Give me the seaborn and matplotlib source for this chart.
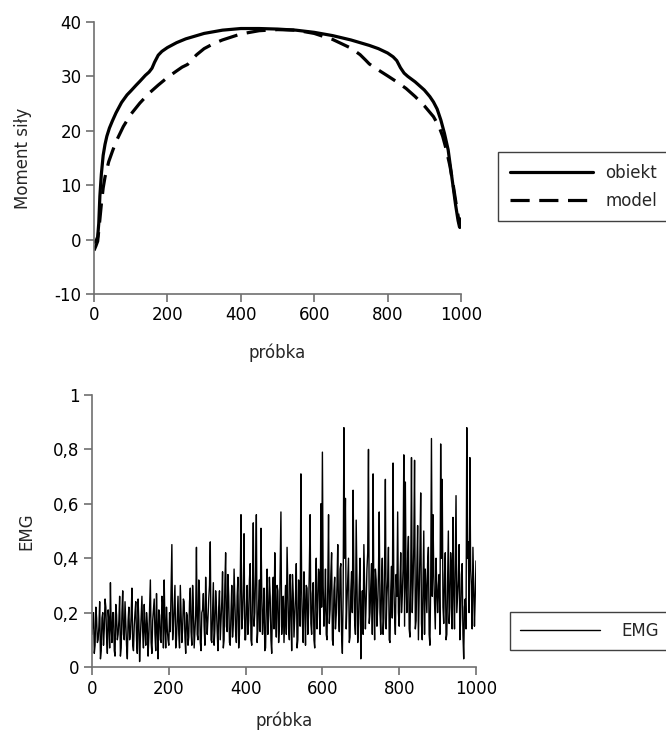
import matplotlib
matplotlib.use("Agg")
import matplotlib.pyplot as plt
import seaborn as sns
import pandas as pd

# ---- data: top chart (Moment siły) ----
obiekt_x = [0, 5, 10, 13, 16, 20, 25, 30, 35, 42, 50, 60, 75, 90, 100, 115, 125, 140, 150,
            158, 165, 175, 185, 200, 225, 250, 275, 300, 350, 400, 450, 500, 550, 600, 650,
            700, 750, 775, 800, 815, 825, 835, 845, 855, 875, 900, 915, 925, 935, 945, 955,
            965, 975, 985, 992, 996, 999]
obiekt_y = [-0.5, -0.3, 0.5, 3.0, 8.0, 12.0, 15.5, 17.5, 19.0, 20.5, 21.8, 23.3, 25.2, 26.6,
            27.3, 28.4, 29.1, 30.2, 30.8, 31.5, 32.6, 33.9, 34.6, 35.3, 36.2, 36.9, 37.4,
            37.9, 38.5, 38.8, 38.8, 38.7, 38.5, 38.1, 37.5, 36.7, 35.7, 35.1, 34.3, 33.6,
            32.9, 31.6, 30.6, 30.0, 29.0, 27.5, 26.3, 25.3, 24.0, 22.0, 19.5, 16.5, 11.5,
            6.5, 3.5, 2.3, 3.8]

model_x = [0, 5, 10, 15, 20, 25, 30, 40, 50, 60, 80, 100, 125, 150, 175, 200, 225, 240, 255,
           265, 280, 300, 325, 350, 400, 450, 500, 550, 600, 650, 700, 725, 740, 750, 765,
           800, 825, 850, 875, 900, 925, 940, 950, 960, 970, 980, 988, 995, 999]
model_y = [-2.0, -1.2, -0.3, 3.0, 6.5, 9.5, 11.5, 14.3, 16.2, 18.0, 20.8, 23.0, 25.1, 26.9,
           28.4, 29.8, 31.0, 31.7, 32.2, 33.0, 34.0, 35.1, 36.0, 36.7, 37.8, 38.4, 38.6,
           38.5, 37.9, 36.8, 35.2, 34.0, 33.0, 32.3, 31.6, 30.1, 29.0, 27.8, 26.3, 24.6,
           22.6, 20.8, 19.0, 16.5, 13.5, 9.5, 6.0, 3.2, 2.0]

top_yticks = [-10, 0, 10, 20, 30, 40]
xticks = [0, 200, 400, 600, 800, 1000]

# ---- data: bottom chart (EMG) ----
# readings at samples 0, 4, 8, ..., 1000
emg_x = list(range(0, 1001, 4))
emg_y = [
    0.12, 0.20, 0.08, 0.18, 0.10, 0.24, 0.06, 0.20, 0.14, 0.22, 0.05, 0.17, 0.31, 0.09, 0.20,
    0.04, 0.19, 0.12, 0.26, 0.07, 0.28, 0.10, 0.16, 0.03, 0.22,
    0.12, 0.29, 0.06, 0.20, 0.10, 0.25, 0.02, 0.18, 0.13, 0.23, 0.08, 0.16, 0.11, 0.32, 0.05,
    0.21, 0.12, 0.27, 0.03, 0.19, 0.09, 0.24, 0.32, 0.07, 0.14,
    0.08, 0.13, 0.45, 0.15, 0.30, 0.10, 0.26, 0.07, 0.20, 0.14, 0.24, 0.05, 0.19, 0.11, 0.29,
    0.08, 0.22, 0.13, 0.44, 0.10, 0.27, 0.06, 0.21, 0.15, 0.33,
    0.12, 0.25, 0.46, 0.09, 0.31, 0.14, 0.22, 0.06, 0.28, 0.17, 0.35, 0.10, 0.42, 0.13, 0.26,
    0.08, 0.30, 0.16, 0.24, 0.09, 0.33, 0.12, 0.56, 0.18, 0.49,
    0.10, 0.30, 0.17, 0.38, 0.08, 0.53, 0.20, 0.56, 0.14, 0.32, 0.51, 0.12, 0.29, 0.07, 0.36,
    0.19, 0.26, 0.05, 0.33, 0.42, 0.11, 0.28, 0.15, 0.57, 0.20,
    0.09, 0.30, 0.44, 0.14, 0.34, 0.06, 0.27, 0.18, 0.38, 0.10, 0.25, 0.71, 0.16, 0.35, 0.08,
    0.29, 0.20, 0.56, 0.12, 0.31, 0.07, 0.40, 0.22, 0.33, 0.60,
    0.79, 0.15, 0.36, 0.10, 0.56, 0.21, 0.42, 0.08, 0.33, 0.19, 0.45, 0.13, 0.38, 0.05, 0.88,
    0.62, 0.24, 0.40, 0.11, 0.35, 0.65, 0.17, 0.54, 0.09, 0.30,
    0.03, 0.28, 0.45, 0.14, 0.36, 0.80, 0.20, 0.38, 0.71, 0.10, 0.32, 0.22, 0.57, 0.12, 0.40,
    0.18, 0.69, 0.26, 0.44, 0.09, 0.37, 0.75, 0.19, 0.34, 0.57,
    0.15, 0.42, 0.26, 0.78, 0.68, 0.20, 0.48, 0.11, 0.77, 0.30, 0.76, 0.17, 0.52, 0.25, 0.64,
    0.10, 0.50, 0.36, 0.20, 0.44, 0.08, 0.84, 0.56, 0.24, 0.40,
    0.20, 0.34, 0.82, 0.69, 0.16, 0.42, 0.12, 0.50, 0.22, 0.36, 0.55, 0.14, 0.63, 0.26, 0.45,
    0.18, 0.38, 0.03, 0.25, 0.88, 0.46, 0.77, 0.30, 0.44, 0.15,
    0.39,
]
# readings at samples 2, 6, 10, ..., 998
emg_mid_x = list(range(2, 1000, 4))
emg_mid_y = [
    0.16, 0.05, 0.22, 0.09, 0.15, 0.03, 0.18, 0.08, 0.25, 0.11, 0.21, 0.07, 0.14, 0.20, 0.06,
    0.23, 0.10, 0.17, 0.04, 0.20, 0.12, 0.24, 0.08, 0.17, 0.10,
    0.19, 0.08, 0.15, 0.24, 0.05, 0.17, 0.11, 0.26, 0.07, 0.14, 0.20, 0.04, 0.22, 0.09, 0.17,
    0.25, 0.06, 0.14, 0.21, 0.10, 0.26, 0.07, 0.15, 0.22, 0.10,
    0.20, 0.28, 0.10, 0.22, 0.07, 0.18, 0.12, 0.30, 0.09, 0.25, 0.11, 0.20, 0.08, 0.24, 0.13,
    0.30, 0.07, 0.19, 0.12, 0.32, 0.09, 0.20, 0.27, 0.08, 0.20,
    0.18, 0.30, 0.10, 0.20, 0.08, 0.28, 0.13, 0.22, 0.10, 0.24, 0.07, 0.30, 0.15, 0.34, 0.09,
    0.20, 0.11, 0.36, 0.13, 0.26, 0.07, 0.30, 0.14, 0.28, 0.10,
    0.22, 0.12, 0.32, 0.10, 0.27, 0.15, 0.34, 0.09, 0.24, 0.13, 0.28, 0.18, 0.06, 0.24, 0.12,
    0.33, 0.10, 0.25, 0.14, 0.21, 0.30, 0.09, 0.36, 0.12, 0.26,
    0.20, 0.12, 0.28, 0.10, 0.22, 0.34, 0.11, 0.26, 0.07, 0.32, 0.15, 0.28, 0.09, 0.24, 0.30,
    0.12, 0.36, 0.16, 0.27, 0.10, 0.30, 0.14, 0.36, 0.12, 0.22,
    0.30, 0.22, 0.12, 0.30, 0.16, 0.34, 0.10, 0.28, 0.14, 0.30, 0.20, 0.36, 0.12, 0.26, 0.40,
    0.14, 0.32, 0.09, 0.28, 0.20, 0.32, 0.12, 0.30, 0.16, 0.40,
    0.18, 0.12, 0.30, 0.24, 0.42, 0.16, 0.30, 0.12, 0.24, 0.36, 0.15, 0.34, 0.20, 0.30, 0.12,
    0.38, 0.14, 0.32, 0.10, 0.28, 0.18, 0.30, 0.12, 0.26, 0.20,
    0.30, 0.20, 0.36, 0.15, 0.30, 0.40, 0.14, 0.32, 0.20, 0.44, 0.14, 0.36, 0.10, 0.42, 0.16,
    0.30, 0.12, 0.28, 0.38, 0.12, 0.30, 0.26, 0.34, 0.14, 0.28,
    0.30, 0.12, 0.40, 0.22, 0.34, 0.10, 0.30, 0.16, 0.42, 0.14, 0.28, 0.40, 0.20, 0.32, 0.10,
    0.34, 0.12, 0.22, 0.14, 0.40, 0.20, 0.36, 0.14, 0.30, 0.26,
]
emg_yticks = [0, 0.2, 0.4, 0.6, 0.8, 1.0]
emg_yticklabels = ["0", "0,2", "0,4", "0,6", "0,8", "1"]

emg_df = pd.DataFrame({"próbka": emg_x + emg_mid_x, "EMG": emg_y + emg_mid_y})
emg_df = emg_df.sort_values("próbka")

# ---- style ----
sns.set_style("ticks")
plt.rcParams["font.family"] = ["DejaVu Sans"]
plt.rcParams["font.size"] = 12
plt.rcParams["axes.unicode_minus"] = False
spine_c = "#707070"

fig = plt.figure(figsize=(6.66, 7.36), dpi=100)
W, H = 666, 736

def px_axes(l, t, r, b):
    return fig.add_axes([l / W, 1 - b / H, (r - l) / W, (b - t) / H])

ax1 = px_axes(94, 22, 461, 294)
ax2 = px_axes(92, 395, 476, 667)

# top chart
sns.lineplot(x=obiekt_x, y=obiekt_y, ax=ax1, color="black", linewidth=2.3, label="obiekt")
sns.lineplot(x=model_x, y=model_y, ax=ax1, color="black", linewidth=2.3, label="model")
ax1.lines[1].set_dashes([6, 3])
ax1.set_xlim(0, 1000)
ax1.set_ylim(-10, 40)
ax1.set_xticks(xticks)
ax1.set_yticks(top_yticks)
ax1.set_xlabel("próbka", fontsize=12, labelpad=14)
ax1.set_ylabel("Moment siły", fontsize=12, labelpad=16)

# bottom chart
sns.lineplot(data=emg_df, x="próbka", y="EMG", ax=ax2, color="black", linewidth=1.0,
             label="EMG")
ax2.set_xlim(0, 1000)
ax2.set_ylim(0, 1)
ax2.set_xticks(xticks)
ax2.set_yticks(emg_yticks)
ax2.set_yticklabels(emg_yticklabels)
ax2.set_xlabel("próbka", fontsize=12, labelpad=10)
ax2.set_ylabel("EMG", fontsize=12, labelpad=13)

for ax in (ax1, ax2):
    sns.despine(ax=ax)
    for s in ("left", "bottom"):
        ax.spines[s].set_color(spine_c)
        ax.spines[s].set_linewidth(1.2)
    ax.tick_params(axis="both", direction="out", length=6, width=1.2, color=spine_c,
                   labelsize=12, labelcolor="black", pad=3)

# legends
ax1.legend(loc="upper left", bbox_to_anchor=(498 / W, 1 - 152 / H),
           bbox_transform=fig.transFigure, borderaxespad=0, frameon=True,
           fancybox=False, edgecolor="#404040", framealpha=1, handlelength=5.0,
           handletextpad=0.75, labelspacing=0.6, fontsize=12, borderpad=0.7)
ax1.get_legend().get_frame().set_linewidth(1.0)

ax2.legend(loc="upper left", bbox_to_anchor=(510 / W, 1 - 612 / H),
           bbox_transform=fig.transFigure, borderaxespad=0, frameon=True,
           fancybox=False, edgecolor="#404040", framealpha=1, handlelength=4.8,
           handletextpad=1.3, fontsize=12, borderpad=0.6)
ax2.get_legend().get_frame().set_linewidth(1.0)

fig.savefig("out.png", dpi=100)
